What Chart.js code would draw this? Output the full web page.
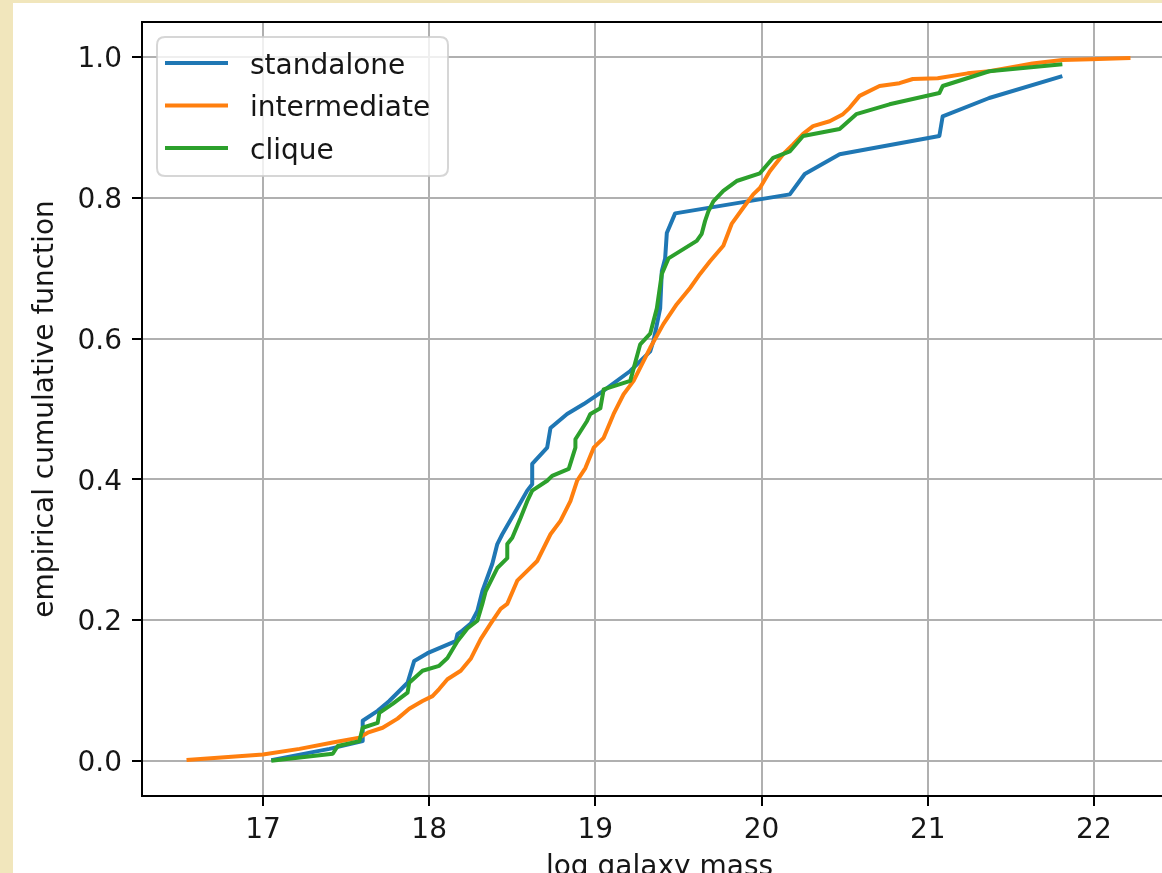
<!DOCTYPE html>
<html>
<head>
<meta charset="utf-8">
<script src="https://cdn.jsdelivr.net/npm/chart.js@4.4.1/dist/chart.umd.min.js"></script>
<style>
  html, body { margin: 0; padding: 0; overflow: hidden; width: 1162px; height: 873px; background: #f1e6bc; }
  #fig { position: absolute; left: 13px; top: 3px; width: 1200px; height: 900px; background: #ffffff; }
  canvas { display: block; }
</style>
</head>
<body>
<div id="fig"><canvas id="ecdf" width="1200" height="900"></canvas></div>
<script>
// Empirical cumulative distribution of log galaxy mass, one curve per group type
const seriesNames = ['standalone', 'intermediate', 'clique'];
const seriesColors = ['#1f77b4', '#ff7f0e', '#2ca02c'];

const standaloneMass = [17.05, 17.40, 17.60, 17.60, 17.69, 17.76, 17.87, 17.91, 17.99, 18.16, 18.17, 18.20, 18.25, 18.29, 18.32, 18.38, 18.41, 18.44, 18.53, 18.59, 18.62, 18.62, 18.71, 18.73, 18.83, 18.93, 19.05, 19.21, 19.33, 19.35, 19.39, 19.40, 19.42, 19.43, 19.48, 20.17, 20.26, 20.47, 21.07, 21.09, 21.37, 21.81];
const standaloneEcdf = [0.001, 0.017, 0.028, 0.057, 0.071, 0.085, 0.111, 0.142, 0.153, 0.170, 0.180, 0.185, 0.195, 0.213, 0.241, 0.280, 0.308, 0.322, 0.359, 0.384, 0.393, 0.422, 0.445, 0.473, 0.493, 0.507, 0.526, 0.554, 0.582, 0.597, 0.643, 0.696, 0.714, 0.750, 0.778, 0.805, 0.834, 0.862, 0.888, 0.916, 0.942, 0.973];

const intermediateMass = [16.54, 17.00, 17.22, 17.42, 17.58, 17.63, 17.72, 17.81, 17.88, 17.96, 18.02, 18.06, 18.11, 18.19, 18.25, 18.31, 18.37, 18.43, 18.47, 18.53, 18.59, 18.65, 18.73, 18.79, 18.85, 18.89, 18.94, 18.99, 19.05, 19.11, 19.17, 19.23, 19.33, 19.41, 19.49, 19.57, 19.63, 19.69, 19.77, 19.82, 19.89, 19.95, 19.99, 20.05, 20.13, 20.19, 20.25, 20.31, 20.41, 20.49, 20.53, 20.59, 20.71, 20.83, 20.91, 21.06, 21.24, 21.37, 21.54, 21.63, 21.81, 21.98, 22.22];
const intermediateEcdf = [0.001, 0.009, 0.017, 0.026, 0.033, 0.040, 0.047, 0.060, 0.074, 0.085, 0.092, 0.102, 0.116, 0.128, 0.145, 0.173, 0.195, 0.216, 0.223, 0.256, 0.270, 0.284, 0.322, 0.341, 0.369, 0.398, 0.416, 0.445, 0.459, 0.493, 0.521, 0.540, 0.587, 0.621, 0.649, 0.672, 0.692, 0.710, 0.732, 0.763, 0.786, 0.805, 0.814, 0.838, 0.862, 0.876, 0.891, 0.902, 0.909, 0.919, 0.928, 0.945, 0.959, 0.963, 0.969, 0.970, 0.977, 0.980, 0.987, 0.991, 0.996, 0.997, 0.999];

const cliqueMass = [17.05, 17.42, 17.45, 17.58, 17.60, 17.69, 17.70, 17.78, 17.87, 17.88, 17.96, 18.06, 18.11, 18.17, 18.23, 18.29, 18.32, 18.34, 18.41, 18.47, 18.47, 18.50, 18.55, 18.59, 18.62, 18.71, 18.74, 18.84, 18.88, 18.88, 18.95, 18.97, 19.03, 19.05, 19.21, 19.27, 19.33, 19.35, 19.37, 19.40, 19.44, 19.61, 19.64, 19.66, 19.68, 19.71, 19.77, 19.85, 19.99, 20.07, 20.17, 20.25, 20.47, 20.57, 20.77, 21.07, 21.09, 21.37, 21.81];
const cliqueEcdf = [0.000, 0.010, 0.021, 0.028, 0.047, 0.054, 0.068, 0.081, 0.097, 0.111, 0.128, 0.135, 0.146, 0.170, 0.188, 0.199, 0.223, 0.241, 0.274, 0.288, 0.308, 0.317, 0.345, 0.369, 0.384, 0.398, 0.405, 0.415, 0.445, 0.457, 0.483, 0.493, 0.501, 0.528, 0.540, 0.592, 0.607, 0.625, 0.643, 0.692, 0.714, 0.739, 0.749, 0.767, 0.781, 0.795, 0.810, 0.824, 0.835, 0.857, 0.866, 0.888, 0.898, 0.919, 0.933, 0.949, 0.959, 0.980, 0.990];

const xTickValues = [17, 18, 19, 20, 21, 22];
const yTickValues = [0.0, 0.2, 0.4, 0.6, 0.8, 1.0];

const xLabel = 'log galaxy mass';
const yLabel = 'empirical cumulative function';

const FONT = "'DejaVu Sans', 'Liberation Sans', sans-serif";
const TEXT = '#161616';

function toPoints(xs, ys) {
  return xs.map((x, i) => ({ x: x, y: ys[i] }));
}

const seriesData = [
  toPoints(standaloneMass, standaloneEcdf),
  toPoints(intermediateMass, intermediateEcdf),
  toPoints(cliqueMass, cliqueEcdf)
];

// Top and right spines of the axes box
const frameSpines = {
  id: 'frameSpines',
  afterDatasetsDraw(chart) {
    const a = chart.chartArea;
    const ctx = chart.ctx;
    ctx.save();
    ctx.strokeStyle = '#000000';
    ctx.lineWidth = 2;
    ctx.beginPath();
    ctx.moveTo(a.left - 1, a.top);
    ctx.lineTo(a.right, a.top);
    ctx.lineTo(a.right, a.bottom + 1);
    ctx.stroke();
    ctx.restore();
  }
};

// Legend box in the upper-left corner of the plot
const cornerLegend = {
  id: 'cornerLegend',
  afterDraw(chart) {
    const ctx = chart.ctx;
    const a = chart.chartArea;
    const bx = a.left + 15, by = a.top + 15, bw = 291, bh = 139, r = 8;
    ctx.save();
    ctx.beginPath();
    ctx.moveTo(bx + r, by);
    ctx.lineTo(bx + bw - r, by);
    ctx.quadraticCurveTo(bx + bw, by, bx + bw, by + r);
    ctx.lineTo(bx + bw, by + bh - r);
    ctx.quadraticCurveTo(bx + bw, by + bh, bx + bw - r, by + bh);
    ctx.lineTo(bx + r, by + bh);
    ctx.quadraticCurveTo(bx, by + bh, bx, by + bh - r);
    ctx.lineTo(bx, by + r);
    ctx.quadraticCurveTo(bx, by, bx + r, by);
    ctx.closePath();
    ctx.fillStyle = 'rgba(255,255,255,0.8)';
    ctx.fill();
    ctx.strokeStyle = 'rgba(204,204,204,0.8)';
    ctx.lineWidth = 2;
    ctx.stroke();

    ctx.font = '28px ' + FONT;
    ctx.textAlign = 'left';
    ctx.textBaseline = 'alphabetic';
    chart.data.datasets.forEach((ds, i) => {
      const ly = by + 26 + i * 42.5;
      ctx.strokeStyle = ds.borderColor;
      ctx.lineWidth = ds.borderWidth;
      ctx.lineCap = 'butt';
      ctx.beginPath();
      ctx.moveTo(bx + 8, ly);
      ctx.lineTo(bx + 71, ly);
      ctx.stroke();
      ctx.fillStyle = TEXT;
      ctx.fillText(ds.label, bx + 93, ly + 10.5);
    });
    ctx.restore();
  }
};

const ctx = document.getElementById('ecdf').getContext('2d');
new Chart(ctx, {
  type: 'line',
  data: {
    datasets: seriesNames.map((name, i) => ({
      label: name,
      data: seriesData[i],
      borderColor: seriesColors[i],
      backgroundColor: seriesColors[i],
      borderWidth: 4,
      pointRadius: 0,
      tension: 0,
      fill: false,
      borderJoinStyle: 'round',
      order: seriesNames.length - i
    }))
  },
  options: {
    responsive: false,
    animation: false,
    devicePixelRatio: 1,
    layout: { padding: { left: 0, top: 19, right: 36, bottom: 0 } },
    plugins: {
      legend: { display: false },
      tooltip: { enabled: false }
    },
    scales: {
      x: {
        type: 'linear',
        min: 16.272,
        max: 22.5,
        afterBuildTicks(scale) { scale.ticks = xTickValues.map(v => ({ value: v })); },
        afterFit(scale) {
          scale.height = 107;
          scale.paddingLeft = 0; scale.paddingRight = 0;
          scale.paddingTop = 0; scale.paddingBottom = 0;
        },
        border: { display: true, color: '#000000', width: 2 },
        grid: { color: '#b0b0b0', lineWidth: 2, tickLength: 10, tickColor: '#000000', tickWidth: 2 },
        ticks: {
          color: TEXT,
          font: { family: FONT, size: 28 },
          padding: 8,
          maxRotation: 0,
          autoSkip: false,
          callback: v => String(v)
        },
        title: {
          display: true,
          text: xLabel,
          color: TEXT,
          font: { family: FONT, size: 28 },
          padding: { top: 0, bottom: 18 }
        }
      },
      y: {
        type: 'linear',
        min: -0.05,
        max: 1.05,
        afterBuildTicks(scale) { scale.ticks = yTickValues.map(v => ({ value: v })); },
        afterFit(scale) {
          scale.width = 129;
          scale.paddingLeft = 0; scale.paddingRight = 0;
          scale.paddingTop = 0; scale.paddingBottom = 0;
        },
        border: { display: true, color: '#000000', width: 2 },
        grid: { color: '#b0b0b0', lineWidth: 2, tickLength: 10, tickColor: '#000000', tickWidth: 2 },
        ticks: {
          color: TEXT,
          font: { family: FONT, size: 28 },
          padding: 10,
          labelOffset: 3,
          autoSkip: false,
          callback: v => Number(v).toFixed(1)
        },
        title: {
          display: true,
          text: yLabel,
          color: TEXT,
          font: { family: FONT, size: 28 },
          padding: { top: 16, bottom: 0 }
        }
      }
    }
  },
  plugins: [frameSpines, cornerLegend]
});
</script>
</body>
</html>
